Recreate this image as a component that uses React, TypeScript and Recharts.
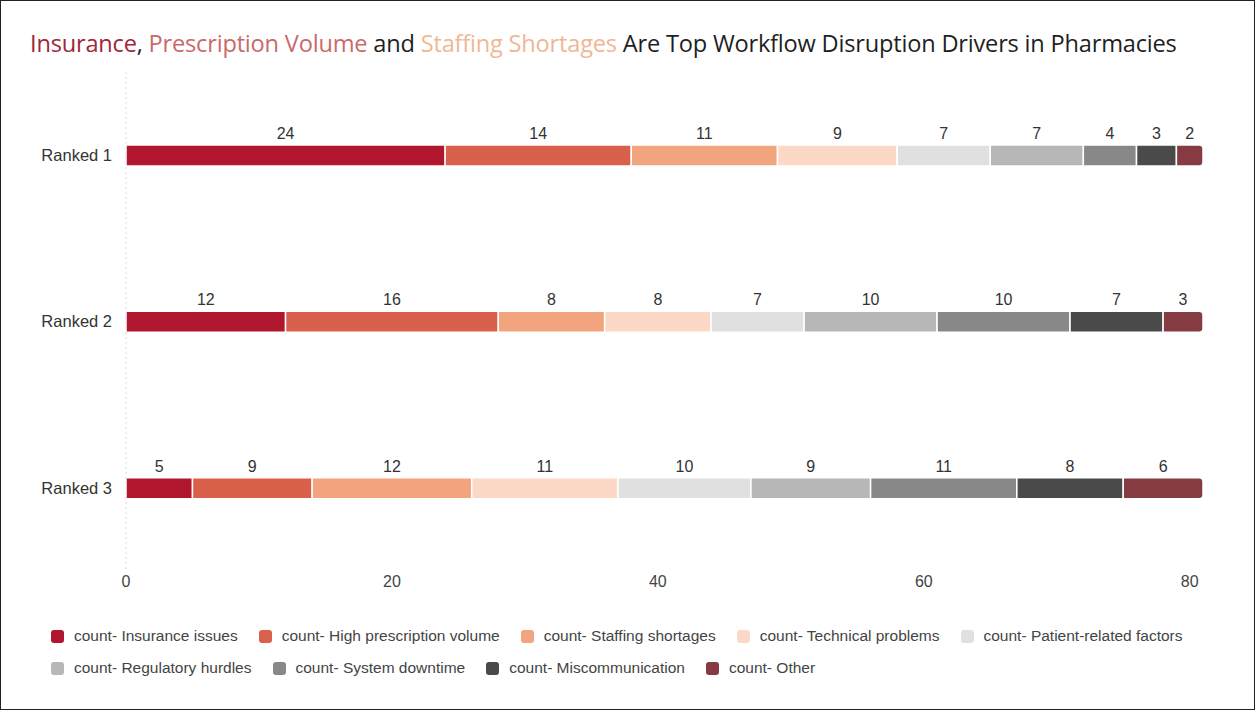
import React from "react";
import { BarChart, Bar, XAxis, YAxis, LabelList } from "recharts";

const categories = ["Ranked 1", "Ranked 2", "Ranked 3"];
const seriesNames = [
  "count- Insurance issues",
  "count- High prescription volume",
  "count- Staffing shortages",
  "count- Technical problems",
  "count- Patient-related factors",
  "count- Regulatory hurdles",
  "count- System downtime",
  "count- Miscommunication",
  "count- Other",
];
const seriesColors = [
  "#b0172e",
  "#d9604a",
  "#f2a47f",
  "#fcd9c6",
  "#e0e0e0",
  "#b7b7b7",
  "#888888",
  "#4a4a4a",
  "#863a41",
];
const insurance = [24, 12, 5];
const highPrescription = [14, 16, 9];
const staffing = [11, 8, 12];
const technical = [9, 8, 11];
const patient = [7, 7, 10];
const regulatory = [7, 10, 9];
const downtime = [4, 10, 11];
const miscommunication = [3, 7, 8];
const other = [2, 3, 6];
const xTicks = [0, 20, 40, 60, 80];

const seriesValues = [
  insurance,
  highPrescription,
  staffing,
  technical,
  patient,
  regulatory,
  downtime,
  miscommunication,
  other,
];

const data = categories.map((name, i) => {
  const row: Record<string, string | number> = { name };
  seriesNames.forEach((s, j) => {
    row[s] = seriesValues[j][i];
  });
  return row;
});

export default function App() {
  return (
    <div
      style={{
        position: "absolute",
        left: 0,
        top: 0,
        width: 1255,
        height: 710,
        boxSizing: "border-box",
        border: "1px solid #222",
        background: "#fff",
        fontFamily: "Liberation Sans, Arial, sans-serif",
        overflow: "hidden",
      }}
    >
      <div
        style={{
          position: "absolute",
          left: 29,
          top: 26,
          fontFamily: "'Open Sans', sans-serif",
          fontSize: 23.6,
          color: "#1f1f1f",
          whiteSpace: "nowrap",
          letterSpacing: -0.2,
        }}
      >
        <span style={{ color: "#a1263a" }}>Insurance</span>,{" "}
        <span style={{ color: "#c96a6a" }}>Prescription Volume</span> and{" "}
        <span style={{ color: "#f0b796" }}>Staffing Shortages</span> Are Top
        Workflow Disruption Drivers in Pharmacies
      </div>
      <div style={{ position: "absolute", left: -1, top: -1 }}>
        <BarChart
          width={1255}
          height={710}
          data={data}
          layout="vertical"
          margin={{ top: 72, right: 52, bottom: 109, left: 6 }}
          barSize={21}
        >
          <XAxis
            type="number"
            domain={[0, 81]}
            ticks={xTicks}
            axisLine={false}
            tickLine={false}
            tickSize={3}
            tick={{ fill: "#444", fontSize: 16 }}
            height={30}
          />
          <YAxis
            type="category"
            dataKey="name"
            width={120}
            axisLine={{ stroke: "#d8d8d8", strokeDasharray: "2 3" }}
            tickLine={false}
            tickMargin={8}
            tick={{ fill: "#333", fontSize: 16.5 }}
          />
          {seriesNames.map((s, j) => (
            <Bar
              key={s}
              dataKey={s}
              stackId="a"
              fill={seriesColors[j]}
              stroke="#fff"
              strokeWidth={1.5}
              radius={j === seriesNames.length - 1 ? [0, 4, 4, 0] : 0}
              isAnimationActive={false}
            >
              <LabelList
                dataKey={s}
                position="top"
                offset={6}
                style={{ fill: "#333", fontSize: 16 }}
              />
            </Bar>
          ))}
        </BarChart>
      </div>
      <div
        style={{
          position: "absolute",
          left: 50,
          top: 625,
          width: 1190,
          display: "flex",
          flexWrap: "wrap",
          rowGap: 12,
          fontSize: 15.5,
          color: "#444",
        }}
      >
        {seriesNames.map((s, j) => (
          <div
            key={s}
            style={{
              display: "flex",
              alignItems: "center",
              marginRight: 21,
              height: 20,
            }}
          >
            <span
              style={{
                display: "inline-block",
                width: 13,
                height: 13,
                borderRadius: 3,
                background: seriesColors[j],
                marginRight: 10,
              }}
            />
            <span style={{ whiteSpace: "nowrap" }}>{s}</span>
          </div>
        ))}
      </div>
    </div>
  );
}
